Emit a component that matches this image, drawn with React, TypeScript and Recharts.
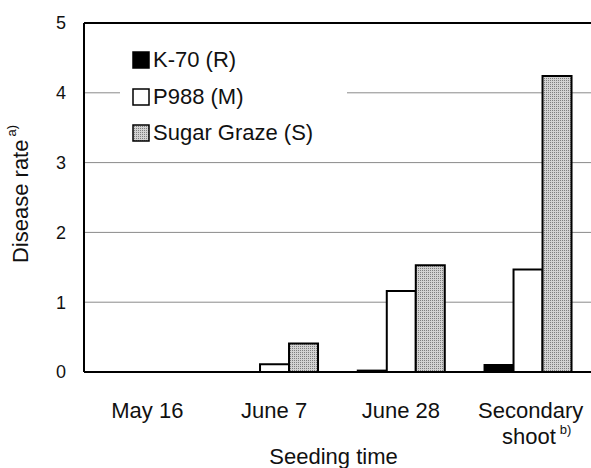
import { BarChart, Bar, XAxis, YAxis, CartesianGrid, Legend, ReferenceLine, Label } from "recharts";

const categories = ["May 16", "June 7", "June 28", "Secondary shoot"];
const k70 = [0, 0, 0.02, 0.1];
const p988 = [0, 0.11, 1.16, 1.47];
const sugarGraze = [0, 0.41, 1.53, 4.24];
const yTicks = [0, 1, 2, 3, 4, 5];

const FONT = '"Liberation Sans", Arial, Helvetica, sans-serif';

const data = categories.map((name, i) => ({
  name,
  k70: k70[i],
  p988: p988[i],
  sugar: sugarGraze[i],
}));

const series = [
  { key: "k70", name: "K-70 (R)", fill: "#000" },
  { key: "p988", name: "P988 (M)", fill: "#fff" },
  { key: "sugar", name: "Sugar Graze (S)", fill: "url(#sugarDots)" },
];

const XTick = ({ x, y, payload }: any) => {
  if (payload.value === "Secondary shoot") {
    return (
      <text x={x} y={y} textAnchor="middle" fontFamily={FONT} fontSize={22} fill="#111">
        <tspan x={x + 3} dy={38}>Secondary</tspan>
        <tspan x={x + 9} dy={26}>shoot</tspan>
        <tspan fontSize={13} dy={-10} dx={4}>b)</tspan>
      </text>
    );
  }
  return (
    <text x={x} y={y + 38} textAnchor="middle" fontFamily={FONT} fontSize={22} fill="#111">
      {payload.value}
    </text>
  );
};

const LegendBox = () => (
  <div style={{ background: "#fff", width: 215, paddingLeft: 12, fontFamily: FONT, fontSize: 22, color: "#111" }}>
    {series.map((s) => (
      <div key={s.key} style={{ height: 36.5, display: "flex", alignItems: "center" }}>
        <svg width={19} height={18} style={{ marginRight: 2 }}>
          <rect x={1} y={1} width={16} height={16} fill={s.fill} stroke="#000" strokeWidth={1.5} />
        </svg>
        <span>{s.name}</span>
      </div>
    ))}
  </div>
);

export default function App() {
  return (
    <div style={{ position: "absolute", left: 0, top: 0, width: 591, height: 468, background: "#fff" }}>
      <BarChart
        width={591}
        height={468}
        data={data}
        margin={{ top: 23, right: 0, bottom: 0, left: 0 }}
        barCategoryGap="16%"
        barGap={0}
      >
        <defs>
          <pattern id="sugarDots" width={2} height={2} patternUnits="userSpaceOnUse">
            <rect width={2} height={2} fill="#d2d2d2" />
            <rect width={1} height={1} fill="#7e7e7e" />
          </pattern>
        </defs>
        <CartesianGrid vertical={false} stroke="#8a8a8a" strokeWidth={1} />
        <XAxis
          dataKey="name"
          height={96}
          tickLine={false}
          axisLine={{ stroke: "#000", strokeWidth: 2 }}
          tick={<XTick />}
          interval={0}
        >
          <Label
            content={({ viewBox }: any) => (
              <text x={viewBox.x + viewBox.width / 2 - 4} y={464} textAnchor="middle" fontFamily={FONT} fontSize={22} fill="#111">
                Seeding time
              </text>
            )}
          />
        </XAxis>
        <YAxis
          width={84}
          domain={[0, 5]}
          ticks={yTicks}
          tickLine={false}
          axisLine={{ stroke: "#000", strokeWidth: 2 }}
          tick={{ fontFamily: FONT, fontSize: 18, fill: "#111" }}
          tickMargin={12}
        >
          <Label
            content={() => (
              <text
                x={20}
                y={194}
                transform="rotate(-90 20 194)"
                textAnchor="middle"
                dominantBaseline="central"
                fontFamily={FONT}
                fontSize={22}
                fill="#111"
              >
                Disease rate
                <tspan fontSize={13} dy={-9} dx={3}>a)</tspan>
              </text>
            )}
          />
        </YAxis>
        <ReferenceLine y={5} stroke="#000" strokeWidth={2} />
        <Legend
          layout="vertical"
          align="center"
          verticalAlign="middle"
          content={<LegendBox />}
          wrapperStyle={{ left: 120, top: 42, width: 228 }}
        />
        {series.map((s) => (
          <Bar
            key={s.key}
            dataKey={s.key}
            name={s.name}
            fill={s.fill}
            stroke="#000"
            strokeWidth={2}
            isAnimationActive={false}
          />
        ))}
      </BarChart>
    </div>
  );
}
